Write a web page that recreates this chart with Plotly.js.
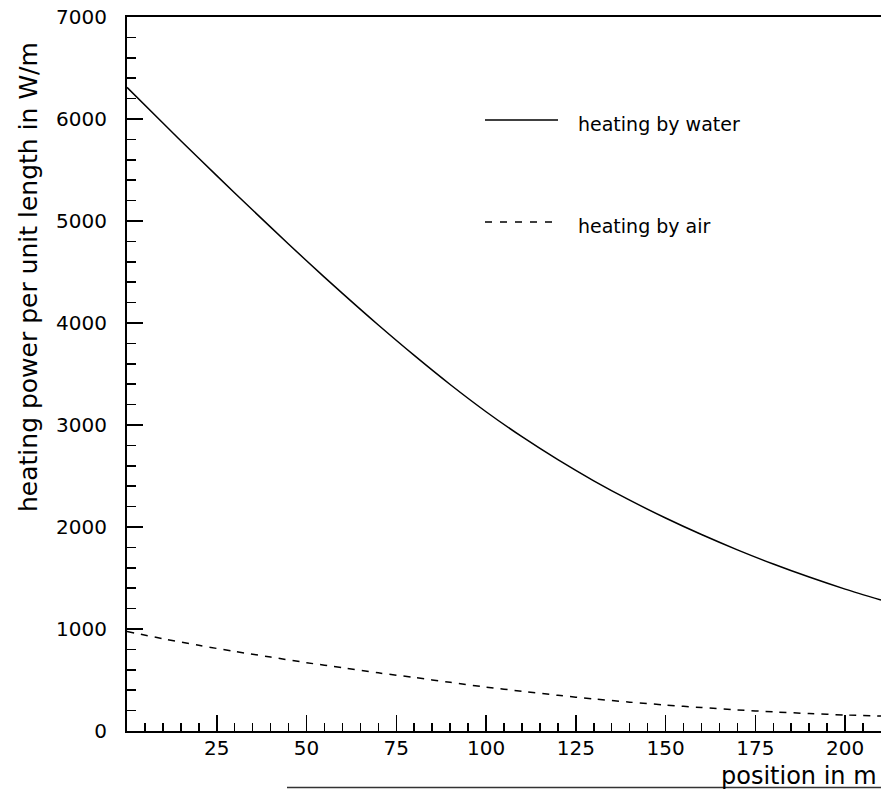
<!DOCTYPE html>
<html>
<head>
<meta charset="utf-8">
<script src="https://cdn.plot.ly/plotly-3.0.1.min.js"></script>
<style>html,body{margin:0;padding:0;background:#fff;}#chart{width:881px;height:790px;}</style>
</head>
<body>
<div id="chart"></div>
<script>
// position in m
var position = [0, 10, 20, 30, 40, 50, 60, 70, 80, 90, 100, 110, 120, 130, 140, 150, 160, 170, 180, 190, 200, 210];
// heating power per unit length in W/m
var heatingByWater = [6310, 5960, 5615, 5275, 4940, 4610, 4290, 3980, 3682, 3397, 3130, 2885, 2660, 2453, 2263, 2088, 1926, 1776, 1637, 1509, 1391, 1283];
var heatingByAir = [975, 905, 840, 780, 725, 670, 620, 570, 525, 477, 430, 390, 350, 314, 283, 255, 230, 207, 188, 171, 157, 147];
var xTickVals = [25, 50, 75, 100, 125, 150, 175, 200];
var yTickVals = [0, 1000, 2000, 3000, 4000, 5000, 6000, 7000];
var seriesNames = ['heating by water', 'heating by air'];
var xTitle = 'position in m';
var yTitle = 'heating power per unit length in W/m';

var FONT = 'DejaVu Sans, Liberation Sans, sans-serif';
var W = 881, H = 790, L = 127, R = 0, T = 17, B = 59;
var pw = W - L - R, ph = H - T - B;
function px2x(p){ return (p - L) / pw; }
function px2y(p){ return (H - B - p) / ph; }

var traces = [
  {x: position, y: heatingByWater, type: 'scatter', mode: 'lines', name: seriesNames[0],
   line: {color: '#000', width: 1.5, shape: 'spline', smoothing: 0.8}, hoverinfo: 'skip'},
  {x: position, y: heatingByAir, type: 'scatter', mode: 'lines', name: seriesNames[1],
   line: {color: '#000', width: 1.5, dash: '7px,7px', shape: 'spline', smoothing: 0.8}, hoverinfo: 'skip'}
];

var layout = {
  width: W, height: H,
  margin: {l: L, r: R, t: T, b: B, pad: 0},
  paper_bgcolor: '#fff', plot_bgcolor: '#fff',
  showlegend: false,
  font: {family: FONT, color: '#000', size: 20},
  xaxis: {
    range: [0, 210], showgrid: false, zeroline: false,
    showline: true, linecolor: '#000', linewidth: 2, mirror: true,
    tickmode: 'array', tickvals: xTickVals, ticktext: xTickVals.map(String),
    ticks: 'inside', ticklen: 16, tickwidth: 1.5, tickcolor: '#000',
    ticklabelstandoff: -2,
    minor: {tickmode: 'linear', tick0: 0, dtick: 5, ticks: 'inside', ticklen: 8, tickwidth: 1.5, tickcolor: '#000', showgrid: false},
    tickfont: {family: FONT, size: 20, color: '#000'}
  },
  yaxis: {
    range: [0, 7000], showgrid: false, zeroline: false,
    showline: true, linecolor: '#000', linewidth: 2,
    tickmode: 'array', tickvals: yTickVals, ticktext: yTickVals.map(String),
    ticks: 'inside', ticklen: 16, tickwidth: 1.5, tickcolor: '#000',
    ticklabelstandoff: 14,
    minor: {tickmode: 'linear', tick0: 0, dtick: 200, ticks: 'inside', ticklen: 9, tickwidth: 1.5, tickcolor: '#000', showgrid: false},
    tickfont: {family: FONT, size: 20, color: '#000'}
  },
  shapes: [
    {type: 'line', xref: 'paper', yref: 'paper', x0: px2x(485), x1: px2x(558), y0: px2y(120), y1: px2y(120),
     line: {color: '#000', width: 1.5}},
    {type: 'line', xref: 'paper', yref: 'paper', x0: px2x(485), x1: px2x(558), y0: px2y(222), y1: px2y(222),
     line: {color: '#000', width: 1.5, dash: '7px,8px'}},
    {type: 'line', xref: 'paper', yref: 'paper', x0: px2x(287), x1: px2x(881), y0: px2y(787.5), y1: px2y(787.5),
     line: {color: '#333', width: 1.5}}
  ],
  annotations: [
    {text: seriesNames[0], xref: 'paper', yref: 'paper', x: px2x(576), y: px2y(124),
     xanchor: 'left', yanchor: 'middle', showarrow: false, font: {family: FONT, size: 19, color: '#000'}},
    {text: seriesNames[1], xref: 'paper', yref: 'paper', x: px2x(576), y: px2y(226),
     xanchor: 'left', yanchor: 'middle', showarrow: false, font: {family: FONT, size: 19, color: '#000'}},
    {text: xTitle, xref: 'paper', yref: 'paper', x: px2x(879), y: px2y(776),
     xanchor: 'right', yanchor: 'middle', showarrow: false, font: {family: FONT, size: 24, color: '#000'}},
    {text: yTitle, xref: 'paper', yref: 'paper', x: px2x(28), y: px2y(40), textangle: -90,
     xanchor: 'center', yanchor: 'top', showarrow: false, font: {family: FONT, size: 25, color: '#000'}}
  ]
};

Plotly.newPlot('chart', traces, layout, {staticPlot: true, displayModeBar: false});
</script>
</body>
</html>
